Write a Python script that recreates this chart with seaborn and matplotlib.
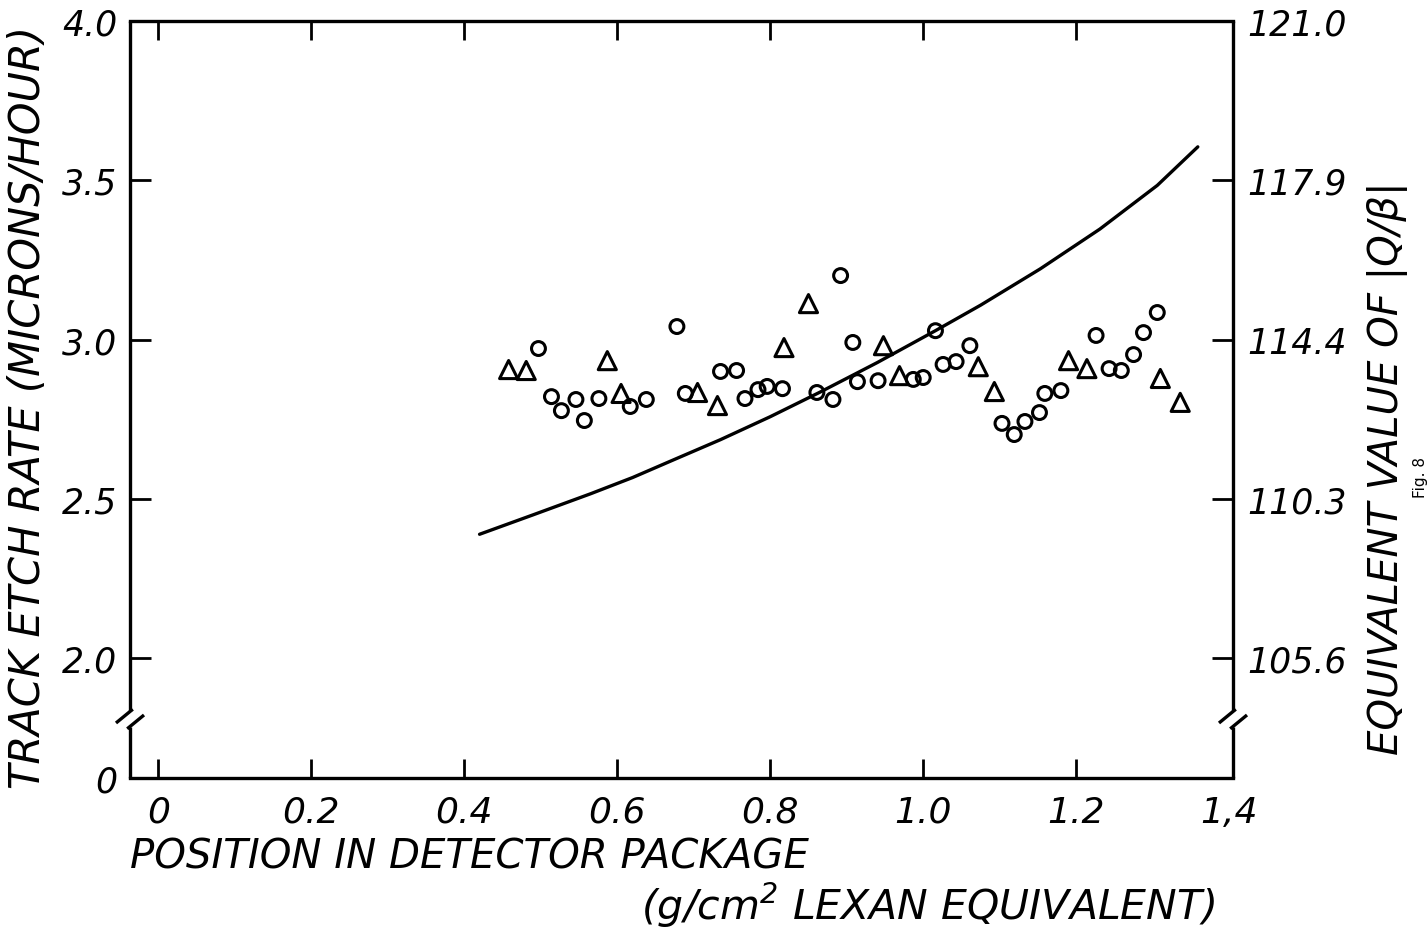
import numpy as np
import pandas as pd
import matplotlib
matplotlib.use("Agg")
import matplotlib.pyplot as plt
import seaborn as sns

# ---------------- data ----------------
circle_x = [0.497, 0.514, 0.527, 0.546, 0.557, 0.576, 0.617, 0.638, 0.678, 0.689,
            0.735, 0.756, 0.767, 0.784, 0.796, 0.816, 0.861, 0.882, 0.892, 0.908,
            0.914, 0.941, 0.987, 1.000, 1.016, 1.026, 1.043, 1.061, 1.103, 1.119,
            1.133, 1.152, 1.159, 1.180, 1.226, 1.243, 1.259, 1.275, 1.288, 1.306]
circle_y = [2.972, 2.821, 2.777, 2.812, 2.746, 2.815, 2.790, 2.812, 3.041, 2.831,
            2.900, 2.903, 2.815, 2.843, 2.853, 2.846, 2.834, 2.812, 3.201, 2.991,
            2.868, 2.871, 2.875, 2.881, 3.028, 2.922, 2.931, 2.981, 2.737, 2.702,
            2.743, 2.771, 2.831, 2.840, 3.013, 2.909, 2.903, 2.953, 3.022, 3.085]

tri_x = [0.458, 0.481, 0.587, 0.605, 0.705, 0.731, 0.818, 0.850,
         0.948, 0.969, 1.072, 1.093, 1.190, 1.214, 1.310, 1.336]
tri_y = [2.906, 2.903, 2.934, 2.831, 2.834, 2.793, 2.975, 3.113,
         2.981, 2.887, 2.915, 2.837, 2.934, 2.909, 2.878, 2.803]

curve_x = [0.420, 0.490, 0.565, 0.620, 0.673, 0.735, 0.800, 0.865, 0.940,
           1.016, 1.075, 1.153, 1.231, 1.306, 1.359]
curve_y = [2.389, 2.450, 2.516, 2.567, 2.622, 2.686, 2.758, 2.835, 2.928,
           3.028, 3.108, 3.222, 3.347, 3.484, 3.605]

x_ticks = [0.0, 0.2, 0.4, 0.6, 0.8, 1.0, 1.2, 1.4]
x_tick_labels = ["0", "0.2", "0.4", "0.6", "0.8", "1.0", "1.2", "1,4"]
y_floor = 1.624
y_ticks = [2.0, 2.5, 3.0, 3.5, 4.0]
y_tick_labels = ["2.0", "2.5", "3.0", "3.5", "4.0"]
right_tick_labels = ["105.6", "110.3", "114.4", "117.9", "121.0"]

xlabel_line1 = "POSITION IN DETECTOR PACKAGE"
xlabel_line2 = "(g/cm$^{2}$ LEXAN EQUIVALENT)"
ylabel_left = "TRACK ETCH RATE (MICRONS/HOUR)"
ylabel_right = "EQUIVALENT VALUE OF |Q/β|"
fig_note = "Fig. 8"

# ---------------- style ----------------
sns.set_style("white")
plt.rcParams["font.family"] = ["DejaVu Sans"]
plt.rcParams["font.style"] = "italic"
plt.rcParams["text.color"] = "black"

W, H = 1428, 929
fig = plt.figure(figsize=(W / 100, H / 100), dpi=100)
ax_l, ax_r, ax_b, ax_t = 130, 1233, 779, 22
ax = fig.add_axes([ax_l / W, (H - ax_b) / H, (ax_r - ax_l) / W, (ax_b - ax_t) / H])

circles = pd.DataFrame({"x": circle_x, "y": circle_y})
tris = pd.DataFrame({"x": tri_x, "y": tri_y})
curve = pd.DataFrame({"x": curve_x, "y": curve_y})

sns.lineplot(data=curve, x="x", y="y", ax=ax, color="black", lw=2.4,
             sort=False, estimator=None)
sns.scatterplot(data=circles, x="x", y="y", ax=ax, marker="o", s=100,
                facecolor="none", edgecolor="black", linewidth=2.2)
sns.scatterplot(data=tris, x="x", y="y", ax=ax, marker="^", s=170,
                facecolor="none", edgecolor="black", linewidth=2.2)

ax.set_xlim(-0.037, 1.405)
ax.set_ylim(y_floor, 3.997)
ax.set_xlabel("")
ax.set_ylabel("")

ax.set_xticks(x_ticks)
ax.set_xticklabels(x_tick_labels, fontsize=26, style="italic")
ax.set_yticks([y_floor] + y_ticks)
ax.set_yticklabels(["0"] + y_tick_labels, fontsize=25, style="italic")
ax.tick_params(axis="x", direction="in", length=14, width=2.0, top=True,
               bottom=True, pad=12, colors="black")
ax.tick_params(axis="y", direction="in", length=15, width=2.0, left=True,
               right=False, pad=9, colors="black")
# no tick marks at the corners
xt = ax.xaxis.get_major_ticks()
xt[-1].tick1line.set_visible(False)
xt[-1].tick2line.set_visible(False)
ax.yaxis.get_major_ticks()[0].tick1line.set_visible(False)

for s in ["left", "right"]:
    ax.spines[s].set_visible(False)
for s in ["top", "bottom"]:
    ax.spines[s].set_linewidth(2.4)
    ax.spines[s].set_color("black")

# right axis with equivalent |Q/beta| values
axr = ax.twinx()
axr.set_ylim(ax.get_ylim())
axr.set_yticks(y_ticks)
axr.set_yticklabels(right_tick_labels, fontsize=25, style="italic")
axr.tick_params(axis="y", direction="in", length=15, width=2.0, pad=10, colors="black")
for s in axr.spines.values():
    s.set_visible(False)

# hand-drawn left / right spines with axis breaks
aw, ah = ax_r - ax_l, ax_b - ax_t
br_top = (ax_b - 712) / ah
br_bot = (ax_b - 728) / ah
dx, dy = 14 / aw, 12 / ah
kw = dict(transform=ax.transAxes, color="black", lw=2.4, clip_on=False,
          solid_capstyle="butt")
for xs in (0.0, 1.0):
    ax.plot([xs, xs], [br_top, 1.0], **kw)
    ax.plot([xs, xs], [0.0, br_bot], **kw)
    ax.plot([xs - dx, xs + 0.2 * dx], [br_top - dy, br_top + 0.15 * dy], **kw)
    ax.plot([xs - 0.2 * dx, xs + dx], [br_bot - 0.15 * dy, br_bot + dy], **kw)

# axis labels
fig.text(28 / W, 1 - 407 / H, ylabel_left, rotation=90, ha="center", va="center",
         fontsize=30, style="italic", color="black")
fig.text(1387 / W, 1 - 468 / H, ylabel_right, rotation=90, ha="center", va="center",
         fontsize=29, style="italic", color="black")
fig.text(1420 / W, 1 - 478 / H, fig_note, rotation=90, ha="center", va="center",
         fontsize=11, style="normal", color="black")
fig.text(130 / W, 1 - 857 / H, xlabel_line1, ha="left", va="center",
         fontsize=29, style="italic", color="black")
fig.text(1215 / W, 1 - 905 / H, xlabel_line2, ha="right", va="center",
         fontsize=29.5, style="italic", color="black")

fig.savefig("out.png", dpi=100, facecolor="white")
